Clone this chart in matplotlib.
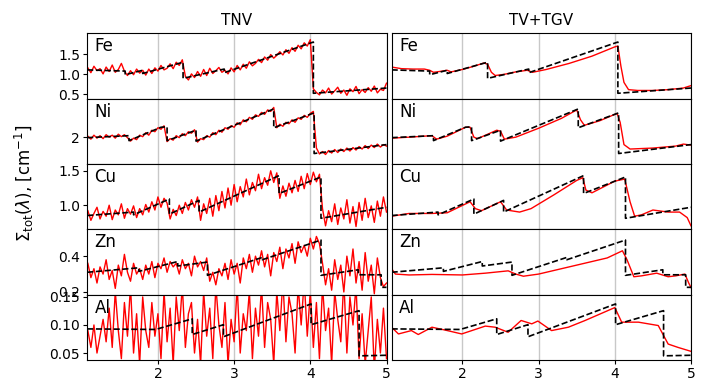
import numpy as np
from matplotlib import pyplot as plt
from matplotlib.ticker import FormatStrFormatter

# wavelength grid of the reconstructions
wl = np.linspace(1.08, 5.0, 99)

names = ["Fe", "Ni", "Cu", "Zn", "Al"]

# reference (dashed) cross sections, knots with the Bragg edges
ref_x = {
    "Fe": [1.07, 1.57, 1.57, 1.80, 1.80, 2.33, 2.33, 2.87, 2.87, 4.04, 4.04, 5.0],
    "Ni": [1.07, 1.62, 1.62, 2.04, 2.12, 2.12, 2.50, 2.50, 3.52, 3.52, 4.05, 4.05, 5.0],
    "Cu": [1.07, 1.68, 1.68, 2.15, 2.15, 2.54, 2.54, 3.59, 3.59, 4.14, 4.14, 5.0],
    "Zn": [1.07, 1.75, 1.75, 2.26, 2.26, 2.65, 2.65, 3.37, 3.37, 4.14, 4.14, 4.63, 4.63, 4.93, 4.93, 5.0],
    "Al": [1.07, 1.97, 2.45, 2.45, 2.86, 2.86, 4.01, 4.01, 4.64, 4.64, 5.0],
}
ref_y = {
    "Fe": [1.11, 1.08, 0.99, 1.10, 1.02, 1.30, 0.90, 1.13, 1.04, 1.80, 0.53, 0.66],
    "Ni": [1.99, 2.03, 1.93, 2.20, 2.21, 1.93, 2.14, 1.92, 2.57, 2.19, 2.49, 1.67, 1.85],
    "Cu": [0.85, 0.90, 0.86, 1.09, 0.87, 1.07, 0.90, 1.43, 1.17, 1.41, 0.81, 0.97],
    "Zn": [0.31, 0.335, 0.315, 0.37, 0.345, 0.367, 0.293, 0.393, 0.38, 0.49, 0.293, 0.324, 0.296, 0.296, 0.226, 0.226],
    "Al": [0.093, 0.092, 0.111, 0.083, 0.1005, 0.079, 0.1375, 0.1005, 0.1255, 0.045, 0.046],
}

# TNV reconstructions (noisy)
tnv = {
    "Fe": [1.16, 1.04, 1.20, 1.09, 1.14, 1.01, 1.18, 1.07, 1.23, 1.05, 1.12, 1.27, 1.08,
           0.97, 1.09, 0.99, 1.13, 1.03,
           1.10, 0.98, 1.13, 1.02, 1.16, 1.08, 1.22, 1.11, 1.15, 1.26, 1.14, 1.30, 1.22, 1.36,
           0.95, 0.86, 1.01, 0.92, 1.07, 0.95, 1.12, 0.97, 1.15, 1.02, 1.09, 1.17, 1.05,
           1.10, 1.01, 1.16, 1.06, 1.22, 1.11, 1.25, 1.15, 1.31, 1.21, 1.27, 1.37, 1.29, 1.43, 1.35,
           1.49, 1.40, 1.47, 1.56, 1.48, 1.61, 1.52, 1.66, 1.57, 1.72, 1.63, 1.78, 1.70, 1.86,
           0.64, 0.55, 0.49, 0.61, 0.54, 0.66, 0.51, 0.59, 0.68, 0.53, 0.61, 0.48, 0.64, 0.57,
           0.70, 0.52, 0.62, 0.55, 0.67, 0.58, 0.71, 0.54, 0.63, 0.60, 0.78],
    "Ni": [2.02, 1.96, 2.04, 1.98, 2.03, 1.97, 2.05, 2.00, 2.04, 1.98, 2.06, 2.01, 2.05, 1.99,
           1.92, 1.98, 1.95, 2.04, 2.01, 2.09, 2.04, 2.14, 2.11, 2.19, 2.16, 2.23,
           1.91, 1.97, 1.94, 2.03, 1.99, 2.07, 2.03, 2.11, 2.08, 2.15,
           1.90, 1.97, 1.95, 2.03, 2.00, 2.09, 2.05, 2.14, 2.10, 2.19, 2.16, 2.23, 2.20, 2.29,
           2.25, 2.35, 2.31, 2.40, 2.36, 2.45, 2.42, 2.50, 2.46, 2.55, 2.52, 2.60,
           2.19, 2.26, 2.22, 2.30, 2.27, 2.35, 2.30, 2.39, 2.36, 2.44, 2.40, 2.48, 2.52,
           1.78, 1.66, 1.71, 1.65, 1.73, 1.68, 1.75, 1.69, 1.76, 1.71, 1.78, 1.72, 1.79, 1.74,
           1.81, 1.76, 1.83, 1.77, 1.84, 1.79, 1.86, 1.80, 1.85, 1.82],
    "Cu": [0.92, 0.78, 0.88, 0.97, 0.80, 0.91, 0.84, 1.00, 0.79, 0.93, 0.86, 1.02, 0.81, 0.95, 0.87, 0.99,
           0.82, 0.95, 0.86, 1.01, 0.90, 1.05, 0.93, 1.12, 0.97, 1.10, 1.03,
           0.80, 0.94, 0.85, 1.00, 0.88, 1.04, 0.93, 1.08, 0.97, 1.12,
           0.78, 1.02, 0.88, 1.10, 0.84, 1.14, 0.92, 1.20, 0.96, 1.25, 1.00, 1.30, 1.05, 1.27,
           1.12, 1.38, 1.15, 1.33, 1.21, 1.45, 1.24, 1.40, 1.29, 1.50, 1.33, 1.47,
           1.10, 1.28, 1.13, 1.32, 1.18, 1.36, 1.20, 1.42, 1.24, 1.46, 1.30, 1.48, 1.34, 1.45,
           0.95, 0.70, 0.92, 0.76, 1.02, 0.72, 0.96, 0.80, 1.08, 0.74, 0.98, 0.69, 1.04, 0.78,
           1.10, 0.82, 0.99, 0.75, 1.06, 0.84, 1.12, 0.90],
    "Zn": [0.36, 0.28, 0.33, 0.25, 0.34, 0.30, 0.38, 0.27, 0.32, 0.22, 0.35, 0.29, 0.41, 0.31, 0.26, 0.36, 0.30,
           0.33, 0.27, 0.35, 0.30, 0.37, 0.28, 0.36, 0.33, 0.39, 0.31, 0.37, 0.34, 0.36,
           0.30, 0.38, 0.33, 0.36, 0.29, 0.40, 0.34, 0.37, 0.32, 0.39,
           0.26, 0.31, 0.24, 0.33, 0.29, 0.36, 0.27, 0.38, 0.30, 0.36, 0.25, 0.39, 0.33, 0.41,
           0.31, 0.40, 0.35, 0.43,
           0.34, 0.41, 0.29, 0.42, 0.37, 0.45, 0.33, 0.44, 0.39, 0.47, 0.36, 0.48, 0.42, 0.46,
           0.40, 0.50, 0.44, 0.51, 0.47,
           0.36, 0.24, 0.33, 0.21, 0.38, 0.27, 0.35, 0.20, 0.40, 0.29, 0.44, 0.25,
           0.37, 0.21, 0.42, 0.26, 0.35, 0.19, 0.39, 0.28,
           0.23, 0.25],
    "Al": [0.09, 0.06, 0.10, 0.05, 0.08, 0.11, 0.07, 0.13, 0.06, 0.16, 0.09, 0.04, 0.14, 0.08,
           0.17, 0.05, 0.12, 0.03, 0.15, 0.09, 0.06, 0.14, 0.08,
           0.12, 0.04, 0.16, 0.07, 0.13, 0.03, 0.15, 0.09, 0.17, 0.06, 0.12, 0.14,
           0.05, 0.11, 0.03, 0.16, 0.08, 0.13, 0.04, 0.17, 0.10, 0.06,
           0.14, 0.03, 0.11, 0.07, 0.17, 0.05, 0.12, 0.09, 0.16, 0.04, 0.13, 0.08, 0.17, 0.06,
           0.14, 0.11, 0.03, 0.16, 0.09, 0.18, 0.07, 0.15, 0.12, 0.05, 0.17, 0.10, 0.18, 0.08, 0.16,
           0.06, 0.14, 0.04, 0.17, 0.09, 0.13, 0.03, 0.16, 0.11, 0.07, 0.18, 0.05, 0.15, 0.10, 0.17,
           0.04, 0.12, 0.03, 0.09, 0.15, 0.02, 0.11, 0.05, 0.13, 0.04],
}

# TV+TGV reconstructions (smooth)
tgv_x = {
    "Fe": [1.07, 1.2, 1.35, 1.5, 1.57, 1.62, 1.7, 1.8, 1.85, 2.0, 2.15, 2.28, 2.33, 2.38, 2.43, 2.55,
           2.7, 2.85, 2.92, 3.1, 3.4, 3.7, 4.0, 4.04, 4.08, 4.12, 4.18, 4.3, 4.5, 4.7, 4.9, 5.0],
    "Ni": [1.07, 1.3, 1.6, 1.66, 1.8, 2.04, 2.1, 2.15, 2.2, 2.45, 2.5, 2.55, 2.7, 3.0, 3.3, 3.5,
           3.55, 3.6, 3.8, 4.03, 4.07, 4.12, 4.2, 4.5, 4.8, 4.9, 5.0],
    "Cu": [1.07, 1.3, 1.6, 1.8, 2.1, 2.17, 2.25, 2.5, 2.58, 2.75, 2.9, 3.2, 3.5, 3.58, 3.62, 3.7,
           4.0, 4.13, 4.2, 4.26, 4.35, 4.5, 4.7, 4.85, 4.95, 5.0],
    "Zn": [1.07, 1.12, 1.3, 1.6, 2.0, 2.3, 2.6, 2.7, 2.8, 3.0, 3.3, 3.6, 3.9, 4.1, 4.16, 4.25,
           4.35, 4.55, 4.7, 4.8, 4.92, 4.97, 5.0],
    "Al": [1.07, 1.16, 1.33, 1.42, 1.60, 1.77, 1.99, 2.30, 2.43, 2.60, 2.77, 2.91, 2.99, 3.17,
           3.39, 3.61, 4.00, 4.09, 4.31, 4.57, 4.70, 4.83, 5.0],
}
tgv_y = {
    "Fe": [1.18, 1.14, 1.13, 1.13, 1.10, 1.05, 1.07, 1.10, 1.06, 1.12, 1.20, 1.28, 1.25, 1.05, 0.97, 1.00,
           1.06, 1.10, 1.05, 1.12, 1.27, 1.45, 1.68, 1.70, 1.20, 0.80, 0.62, 0.60, 0.60, 0.62, 0.66, 0.72],
    "Ni": [1.98, 2.00, 2.03, 1.96, 2.02, 2.20, 2.20, 2.00, 1.97, 2.14, 2.12, 1.96, 2.00, 2.18, 2.38, 2.55,
           2.35, 2.24, 2.33, 2.48, 2.30, 1.85, 1.76, 1.78, 1.82, 1.86, 1.84],
    "Cu": [0.84, 0.88, 0.88, 0.89, 1.05, 0.95, 0.92, 1.05, 0.93, 0.90, 0.95, 1.15, 1.36, 1.40, 1.22, 1.18,
           1.35, 1.38, 1.05, 0.84, 0.86, 0.93, 0.90, 0.90, 0.82, 0.70],
    "Zn": [0.33, 0.30, 0.295, 0.298, 0.295, 0.305, 0.318, 0.30, 0.288, 0.30, 0.33, 0.36, 0.39, 0.43, 0.38, 0.285,
           0.29, 0.305, 0.285, 0.29, 0.30, 0.25, 0.225],
    "Al": [0.096, 0.084, 0.090, 0.083, 0.096, 0.091, 0.084, 0.098, 0.096, 0.087, 0.108, 0.102, 0.107, 0.090,
           0.096, 0.108, 0.131, 0.105, 0.105, 0.099, 0.066, 0.060, 0.053],
}

ylims = {"Fe": (0.4, 2.02), "Ni": (1.46, 2.78), "Cu": (0.65, 1.6), "Zn": (0.185, 0.55), "Al": (0.0375, 0.154)}
yticks = {"Fe": [0.5, 1.0, 1.5], "Ni": [2], "Cu": [1.0, 1.5], "Zn": [0.2, 0.4], "Al": [0.05, 0.10, 0.15]}
yfmt = {"Fe": "%.1f", "Ni": "%d", "Cu": "%.1f", "Zn": "%.1f", "Al": "%.2f"}

fig, axes = plt.subplots(5, 2, figsize=(7.08, 3.81), dpi=100, sharex=True)
fig.subplots_adjust(left=0.123, right=0.976, top=0.913, bottom=0.055, hspace=0, wspace=0.017)

for r, n in enumerate(names):
    for c in range(2):
        ax = axes[r, c]
        ax.grid(axis='x', color='#c8c8c8', lw=1)
        ax.set_axisbelow(True)
        if c == 0:
            ax.plot(wl, tnv[n], color='red', lw=1.0)
        else:
            ax.plot(tgv_x[n], tgv_y[n], color='red', lw=1.0)
        ax.plot(ref_x[n], ref_y[n], 'k--', lw=1.2)
        ax.set_xlim(1.07, 5.0)
        ax.set_ylim(*ylims[n])
        ax.set_yticks(yticks[n])
        ax.yaxis.set_major_formatter(FormatStrFormatter(yfmt[n]))
        ax.text(0.025, 0.80, n, transform=ax.transAxes, fontsize=12, va='center')
        ax.tick_params(labelsize=10, length=3, pad=2)
        if c == 1:
            ax.tick_params(left=False, labelleft=False)
        if r < 4:
            ax.tick_params(bottom=False)
        ax.set_xticks([2, 3, 4, 5])

axes[0, 0].set_title("TNV", fontsize=11)
axes[0, 1].set_title("TV+TGV", fontsize=11)
fig.text(0.035, 0.52, r"$\Sigma_{\rm tot}(\lambda)$, [cm$^{-1}$]", rotation=90,
         va='center', ha='center', fontsize=12)

plt.savefig("out.png")
